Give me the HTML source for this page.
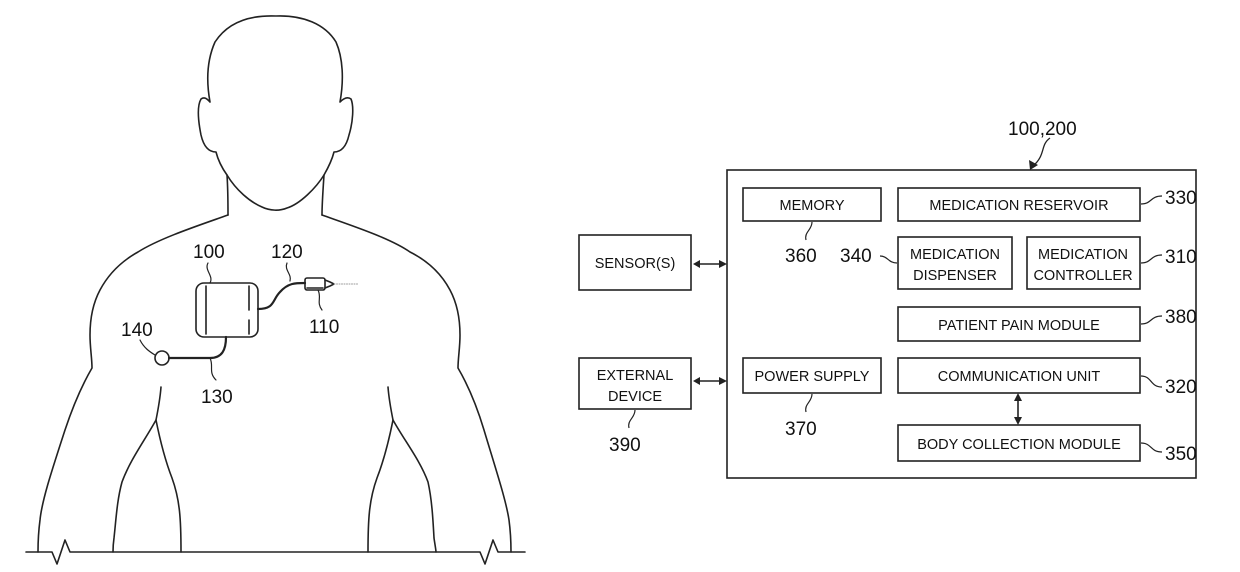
<!DOCTYPE html>
<html><head><meta charset="utf-8"><style>
html,body{margin:0;padding:0;background:#fff}
svg{display:block}
text{font-family:"Liberation Sans",Arial,sans-serif;fill:#111}
</style></head><body>
<svg width="1240" height="572" viewBox="0 0 1240 572" xmlns="http://www.w3.org/2000/svg">
<g fill="none" stroke="#222" stroke-width="1.6" stroke-linecap="round" stroke-linejoin="round">
<!-- head -->
<path d="M227,175 C222,168 218,160 216,152 C210,152 204,148 201,135 C198,120 197,106 201,99 C205,96 208,100 210,102 C206,80 207,60 215,42 C228,22 250,15 276,16 C303,15 325,24 336,42 C343,58 344,80 340,102 C343,99 347,96 351,99 C354,106 353,122 349,135 C346,148 340,152 334,152 C332,160 328,168 324,175 C316,188 300,204 287,208 C280,211 270,211 262,207 C250,202 236,190 227,175"/>
<path d="M227,175 C228,190 228,204 228,215"/>
<path d="M324,175 C323,190 322,204 322,215"/>
<!-- shoulders / arms -->
<path d="M228,215 C200,225 160,238 138,252 C120,262 108,275 100,290 C92,305 90,320 90,335 C90,348 92,358 92,368 C85,380 75,400 65,430 C52,470 42,500 40,520 C38,535 38,545 38,552"/>
<path d="M161,387 C160,400 158,410 156,420 C145,440 130,460 122,482 C117,500 116,520 114,538 C113,545 113,550 113,552"/>
<path d="M156,420 C160,440 165,460 172,478 C180,500 181,520 181,552"/>
<path d="M322,215 C350,225 390,238 410,252 C430,262 442,275 450,290 C458,305 460,320 460,335 C460,348 458,358 458,368 C465,380 475,400 484,430 C496,470 506,500 509,520 C511,535 511,545 511,552"/>
<path d="M388,387 C389,400 391,410 393,420 C404,440 420,460 428,482 C432,500 433,520 434,538 C435,545 436,550 436,552"/>
<path d="M393,420 C389,440 384,460 377,478 C369,500 368,520 368,552"/>
<!-- base line with breaks -->
<path d="M26,552 L52,552 L57,564 L65,540 L70,552 L480,552 L485,564 L493,540 L498,552 L525,552"/>
<!-- device -->
<rect x="196" y="283" width="62" height="54" rx="8"/>
<line x1="206" y1="286" x2="206" y2="334"/>
<line x1="249" y1="286" x2="249" y2="310"/>
<line x1="249" y1="320" x2="249" y2="334"/>
<path d="M258,309 C275,309 272,300 280,292 C288,283 295,283 305,283" stroke-width="2.2"/>
<rect x="305" y="278" width="20" height="12" rx="2"/>
<line x1="307" y1="288" x2="323" y2="288"/>
<path d="M325,280 L330,282 L334,284 L330,286 L325,288"/>
<line x1="334" y1="284" x2="358" y2="284" stroke="#999" stroke-width="1" stroke-dasharray="1,1.5"/>
<path d="M226,337 C226,350 222,358 210,358 L169,358" stroke-width="2.2"/>
<circle cx="162" cy="358" r="7"/>
<!-- leaders -->
<path d="M208,263 C204,270 214,276 210,283" stroke-width="1.2"/>
<path d="M287,263 C284,270 292,274 290,281" stroke-width="1.2"/>
<path d="M318,290 C322,298 316,302 322,310" stroke-width="1.2"/>
<path d="M140,340 C144,348 150,352 155,355" stroke-width="1.2"/>
<path d="M210,358 C214,366 208,372 216,380" stroke-width="1.2"/>
</g>
<g font-size="19">
<text x="193" y="258">100</text>
<text x="271" y="258">120</text>
<text x="309" y="333">110</text>
<text x="121" y="336">140</text>
<text x="201" y="403">130</text>
</g>

<!-- block diagram -->
<g fill="none" stroke="#222" stroke-width="1.6">
<rect x="727" y="170" width="469" height="308"/>
<rect x="743" y="188" width="138" height="33"/>
<rect x="898" y="188" width="242" height="33"/>
<rect x="898" y="237" width="114" height="52"/>
<rect x="1027" y="237" width="113" height="52"/>
<rect x="898" y="307" width="242" height="34"/>
<rect x="898" y="358" width="242" height="35"/>
<rect x="898" y="425" width="242" height="36"/>
<rect x="743" y="358" width="138" height="35"/>
<rect x="579" y="235" width="112" height="55"/>
<rect x="579" y="358" width="112" height="51"/>
<line x1="697" y1="264" x2="721" y2="264"/>
<line x1="697" y1="381" x2="721" y2="381"/>
<line x1="1018" y1="399" x2="1018" y2="419"/>
<path d="M1050,138 C1040,145 1046,155 1033,166" stroke-width="1.3"/>
<path d="M1141,204 C1152,204 1150,196 1162,196" stroke-width="1.2"/>
<path d="M1141,263 C1152,263 1150,255 1162,255" stroke-width="1.2"/>
<path d="M1141,324 C1152,324 1150,316 1162,316" stroke-width="1.2"/>
<path d="M1141,376 C1152,376 1150,387 1162,387" stroke-width="1.2"/>
<path d="M1141,443 C1152,443 1150,452 1162,452" stroke-width="1.2"/>
<path d="M812,222 C812,230 804,232 806,240" stroke-width="1.2"/>
<path d="M897,263 C888,263 888,256 880,256" stroke-width="1.2"/>
<path d="M812,394 C812,402 804,404 806,412" stroke-width="1.2"/>
<path d="M635,410 C635,418 627,420 629,428" stroke-width="1.2"/>
</g>
<g fill="#222">
<path d="M693,264 L700,260 L700,268Z"/><path d="M727,264 L719,260 L719,268Z"/>
<path d="M693,381 L700,377 L700,385Z"/><path d="M727,381 L719,377 L719,385Z"/>
<path d="M1018,393 L1014,401 L1022,401Z"/><path d="M1018,425 L1014,417 L1022,417Z"/>
<path d="M1030,170 L1029,160 L1038,165Z"/>
</g>
<g font-size="14.5" text-anchor="middle">
<text x="812" y="210">MEMORY</text>
<text x="1019" y="210">MEDICATION RESERVOIR</text>
<text x="955" y="259">MEDICATION</text>
<text x="955" y="280">DISPENSER</text>
<text x="1083" y="259">MEDICATION</text>
<text x="1083" y="280">CONTROLLER</text>
<text x="1019" y="330">PATIENT PAIN MODULE</text>
<text x="1019" y="381">COMMUNICATION UNIT</text>
<text x="1019" y="449">BODY COLLECTION MODULE</text>
<text x="812" y="381">POWER SUPPLY</text>
<text x="635" y="268">SENSOR(S)</text>
<text x="635" y="380">EXTERNAL</text>
<text x="635" y="401">DEVICE</text>
</g>
<g font-size="19">
<text x="1008" y="135">100,200</text>
<text x="1165" y="204">330</text>
<text x="1165" y="263">310</text>
<text x="1165" y="323">380</text>
<text x="1165" y="393">320</text>
<text x="1165" y="460">350</text>
<text x="785" y="262">360</text>
<text x="840" y="262">340</text>
<text x="785" y="435">370</text>
<text x="609" y="451">390</text>
</g>
</svg>
</body></html>
